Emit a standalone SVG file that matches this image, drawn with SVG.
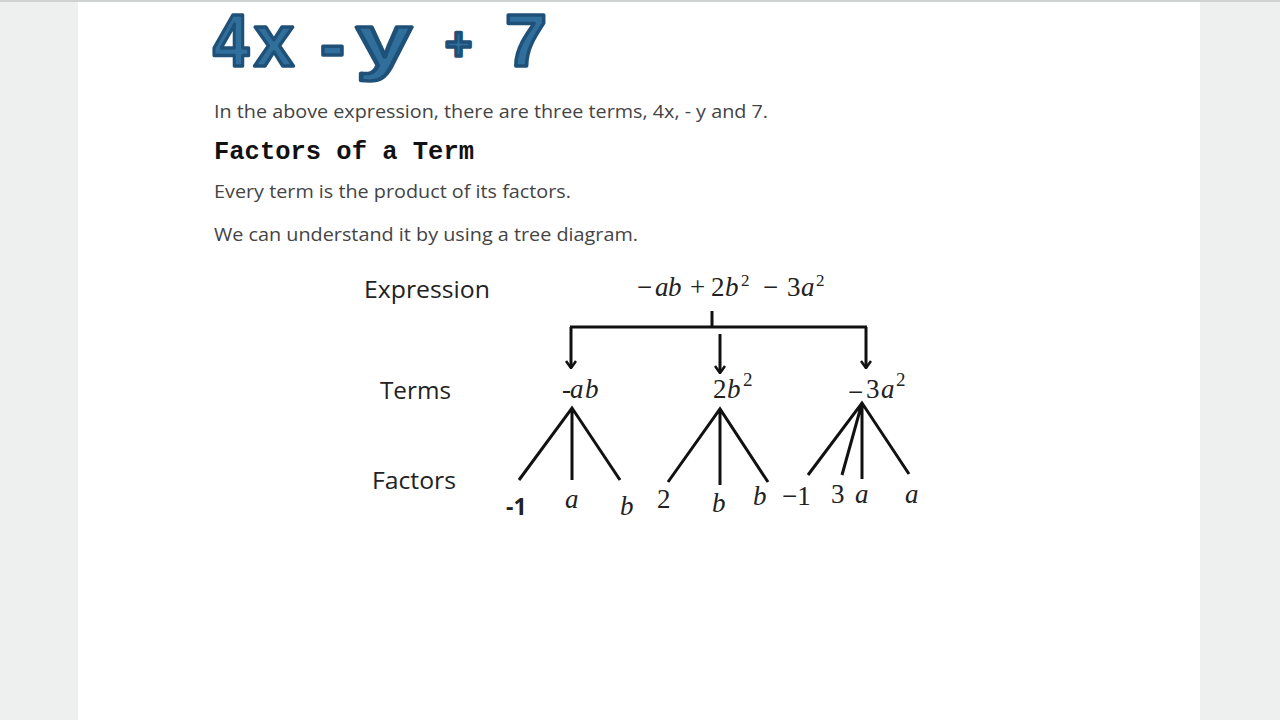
<svg xmlns="http://www.w3.org/2000/svg" width="1280" height="720" viewBox="0 0 1280 720">
<defs>
<style>
.title{font-family:"Liberation Sans",Arial,sans-serif;font-weight:bold;fill:#306f9c;stroke:#1f5178;stroke-width:3.5;stroke-linejoin:round}
.body{font-family:"Open Sans","Noto Sans",sans-serif;font-size:19px;fill:#444}
.head{font-family:"Liberation Mono","Courier New",monospace;font-weight:bold;font-size:25px;fill:#111}
.lbl{font-family:"Open Sans","Noto Sans",sans-serif;font-size:23px;fill:#222}
.math{font-family:"Liberation Serif","Times New Roman",serif;font-size:27px;fill:#222}
.it{font-style:italic}
.sup{font-size:19px}
.ln{stroke:#111;stroke-width:3;fill:none;stroke-linecap:butt}
</style>
<marker id="ah" viewBox="0 0 10 12" refX="9" refY="6" markerWidth="10" markerHeight="12" markerUnits="userSpaceOnUse" orient="auto">
<polyline points="2,1 9,6 2,11" fill="none" stroke="#111" stroke-width="2.6"/>
</marker>
</defs>
<rect x="0" y="0" width="1280" height="720" fill="#eef0f0"/>
<rect x="78" y="2" width="1122" height="718" fill="#ffffff"/>
<rect x="0" y="0" width="1280" height="2" fill="#cfd2d2"/>

<g id="title">
<text class="title" x="213" y="66" font-size="74" textLength="36" lengthAdjust="spacingAndGlyphs">4</text>
<text class="title" x="254" y="66" font-size="74" textLength="40" lengthAdjust="spacingAndGlyphs">x</text>
<text class="title" x="320" y="70" font-size="74" textLength="25" lengthAdjust="spacingAndGlyphs">-</text>
<text class="title" x="356" y="66" font-size="74" textLength="56" lengthAdjust="spacingAndGlyphs">y</text>
<text class="title" x="445" y="60" font-size="46" textLength="27" lengthAdjust="spacingAndGlyphs">+</text>
<text class="title" x="505" y="66" font-size="74" textLength="42" lengthAdjust="spacingAndGlyphs">7</text>
</g>

<g id="intro">
<text class="body" x="214" y="118" textLength="554" lengthAdjust="spacingAndGlyphs">In the above expression, there are three terms, 4x, - y and 7.</text>
<text class="head" x="214" y="159" textLength="260" lengthAdjust="spacingAndGlyphs">Factors of a Term</text>
<text class="body" x="214" y="198" textLength="357" lengthAdjust="spacingAndGlyphs">Every term is the product of its factors.</text>
<text class="body" x="214" y="241" textLength="424" lengthAdjust="spacingAndGlyphs">We can understand it by using a tree diagram.</text>
</g>

<g id="row-labels">
<text class="lbl" x="364" y="298" textLength="126" lengthAdjust="spacingAndGlyphs">Expression</text>
<text class="lbl" x="380" y="399" textLength="71" lengthAdjust="spacingAndGlyphs">Terms</text>
<text class="lbl" x="372" y="489" textLength="84" lengthAdjust="spacingAndGlyphs">Factors</text>
</g>

<g id="expression">
<text class="math" y="296" font-size="26"><tspan x="637">−</tspan><tspan class="it" x="655">a</tspan><tspan class="it" x="668">b</tspan><tspan x="690">+</tspan><tspan x="711">2</tspan><tspan class="it" x="725">b</tspan><tspan font-size="17" x="741" dy="-10">2</tspan><tspan x="763" dy="10">−</tspan><tspan x="787">3</tspan><tspan class="it" x="801">a</tspan><tspan font-size="17" x="816" dy="-10">2</tspan></text>
</g>

<g id="connectors">
<path class="ln" d="M712,311 V327 M570,327 H867"/>
<line class="ln" x1="571" y1="327" x2="571" y2="368" marker-end="url(#ah)"/>
<line class="ln" x1="720" y1="334" x2="720" y2="373" marker-end="url(#ah)"/>
<line class="ln" x1="866" y1="327" x2="866" y2="368" marker-end="url(#ah)"/>
<path class="ln" d="M519,480 L572,408 L620,480 M572,408 V480"/>
<path class="ln" d="M668,482 L720,409 L768,482 M720,409 V485"/>
<path class="ln" d="M808,475 L862,403 L909,474 M862,403 L842,475 M862,403 V479"/>
</g>

<g id="term-ab">
<text class="math" y="398"><tspan x="562">-</tspan><tspan class="it" x="570">a</tspan><tspan class="it" x="585">b</tspan></text>
</g>
<g id="term-2b2">
<text class="math" y="398"><tspan x="713">2</tspan><tspan class="it" x="727">b</tspan><tspan class="sup" x="743" dy="-12">2</tspan></text>
</g>
<g id="term-3a2">
<text class="math" y="398"><tspan x="848" dy="3">−</tspan><tspan x="866" dy="-3">3</tspan><tspan class="it" x="881">a</tspan><tspan class="sup" x="896" dy="-12">2</tspan></text>
</g>

<g id="factors">
<text class="lbl" x="506" y="515" font-weight="bold" font-size="22">-1</text>
<text class="math it" x="565" y="508">a</text>
<text class="math it" x="620" y="515">b</text>
<text class="math" x="657" y="508">2</text>
<text class="math it" x="712" y="512">b</text>
<text class="math it" x="753" y="505">b</text>
<text class="math" x="782" y="505">−1</text>
<text class="math" x="831" y="503">3</text>
<text class="math it" x="855" y="503">a</text>
<text class="math it" x="905" y="503">a</text>
</g>
</svg>
